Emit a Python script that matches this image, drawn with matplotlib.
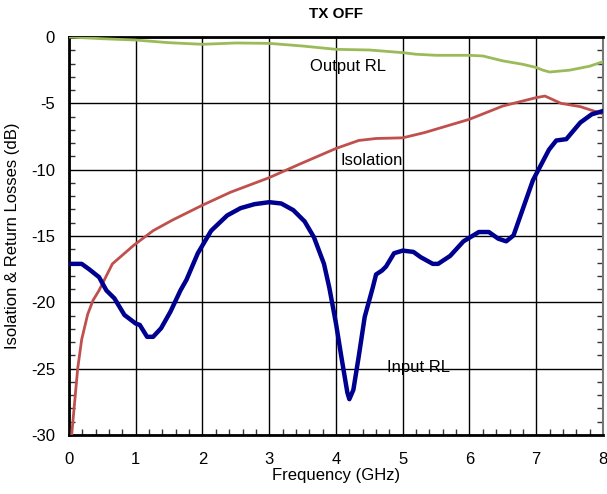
import matplotlib
matplotlib.use("Agg")
import matplotlib.pyplot as plt
from matplotlib.ticker import MultipleLocator

plt.rcParams['font.family'] = ['Liberation Sans', 'DejaVu Sans']

# Output RL (green)
out_f = [0.0, 0.5, 1.0, 1.5, 2.0, 2.5, 3.0, 3.5, 4.0, 4.5, 5.0, 5.2, 5.5, 6.0, 6.2, 6.5, 6.8, 7.0, 7.1, 7.2, 7.5, 7.8, 8.0]
out_db = [0.0, -0.13, -0.23, -0.43, -0.55, -0.45, -0.48, -0.68, -0.93, -0.98, -1.18, -1.3, -1.38, -1.38, -1.43, -1.8, -2.06, -2.3, -2.5, -2.64, -2.5, -2.2, -1.86]

# Isolation (red)
iso_f = [0.04, 0.13, 0.19, 0.28, 0.36, 0.45, 0.65, 0.97, 1.26, 1.55, 1.99, 2.42, 3.0, 3.47, 4.0, 4.34, 4.6, 5.0, 5.33, 6.0, 6.5, 7.0, 7.13, 7.37, 7.66, 8.0]
iso_db = [-30.0, -25.0, -22.8, -20.9, -19.85, -19.1, -17.1, -15.7, -14.6, -13.8, -12.7, -11.7, -10.6, -9.55, -8.4, -7.8, -7.65, -7.6, -7.2, -6.2, -5.2, -4.57, -4.45, -5.0, -5.25, -5.8]

# Input RL (navy)
inp_f = [0.0, 0.19, 0.3, 0.45, 0.56, 0.68, 0.83, 1.0, 1.06, 1.17, 1.26, 1.38, 1.52, 1.67, 1.76, 1.93, 2.13, 2.37, 2.57, 2.78, 3.0, 3.18, 3.36, 3.53, 3.67, 3.82, 3.9,
         4.0, 4.08, 4.17, 4.2, 4.26, 4.34, 4.43, 4.55, 4.6, 4.69, 4.75, 4.87, 5.0, 5.16, 5.27, 5.45, 5.53, 5.71, 5.91, 6.14, 6.29, 6.43, 6.55, 6.66, 6.81, 6.95, 7.19, 7.3, 7.45, 7.66, 7.83, 8.0]
inp_db = [-17.1, -17.1, -17.5, -18.1, -19.1, -19.7, -20.95, -21.6, -21.7, -22.6, -22.6, -21.95, -20.7, -19.1, -18.3, -16.3, -14.6, -13.45, -12.9, -12.6, -12.45, -12.55, -13.05, -13.9, -15.1, -17.1, -18.9,
          -21.6, -24.1, -26.8, -27.3, -26.6, -24.1, -21.1, -18.9, -17.9, -17.6, -17.3, -16.3, -16.1, -16.2, -16.6, -17.1, -17.1, -16.5, -15.4, -14.7, -14.7, -15.2, -15.4, -14.95, -12.8, -10.8, -8.5, -7.8, -7.7, -6.45, -5.83, -5.58]

x_ticks = [0, 1, 2, 3, 4, 5, 6, 7, 8]
y_ticks = [-30, -25, -20, -15, -10, -5, 0]

fig = plt.figure(figsize=(6.07, 4.94), dpi=100)
ax = fig.add_axes([69/607, 1-435/494, (603-69)/607, (435-37)/494])

ax.plot(out_f, out_db, color='#9BBB59', lw=2.0, zorder=3)
ax.plot(iso_f, iso_db, color='#C0504D', lw=2.0, zorder=3)
ax.plot(inp_f, inp_db, color='#000090', lw=3.2, zorder=4, solid_joinstyle='round', solid_capstyle='round')

ax.set_xlim(0, 8)
ax.set_ylim(-30, 0)
ax.set_xticks(x_ticks)
ax.set_yticks(y_ticks)
ax.set_xticklabels([str(v) for v in x_ticks])
ax.set_yticklabels([str(v) for v in y_ticks])
ax.xaxis.set_minor_locator(MultipleLocator(0.2))
ax.yaxis.set_minor_locator(MultipleLocator(1))
ax.tick_params(which='both', direction='in', left=True, bottom=True, right=True, top=False, labelsize=12)
ax.tick_params(axis='x', which='major', length=0, pad=12)
ax.tick_params(axis='y', which='major', length=0, pad=10)
ax.tick_params(which='minor', length=4, width=1, colors='#333333')
ax.grid(True, which='major', color='black', lw=1.0, zorder=1)

for s in ['left', 'bottom', 'top']:
    ax.spines[s].set_linewidth(2.0)
    ax.spines[s].set_color('black')
ax.spines['right'].set_linewidth(1.5)
ax.spines['right'].set_color('#777777')

ax.set_title('TX OFF', fontsize=11, fontweight='bold', pad=14)
ax.set_xlabel('Frequency (GHz)', fontsize=12, labelpad=1)
ax.set_ylabel('Isolation & Return Losses (dB)', fontsize=12, labelpad=8)

ax.text(4.18, -2.2, 'Output RL', fontsize=12, ha='center', va='center')
ax.text(4.54, -9.3, 'Isolation', fontsize=12, ha='center', va='center')
ax.text(5.23, -24.9, 'Input RL', fontsize=12, ha='center', va='center')

fig.savefig('out.png', dpi=100)
